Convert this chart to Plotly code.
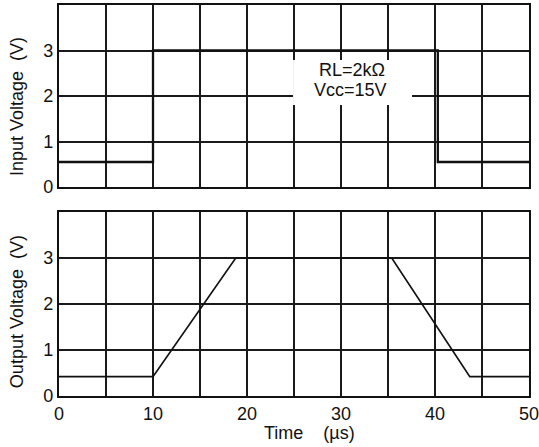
import plotly.graph_objects as go

# Data
input_time = [0, 10, 10, 40.3, 40.3, 50]
input_volt = [0.55, 0.55, 3, 3, 0.55, 0.55]
output_time = [0, 10, 18.8, 35.4, 43.7, 50]
output_volt = [0.42, 0.42, 3, 3, 0.42, 0.42]
x_ticks = [0, 10, 20, 30, 40, 50]
y_ticks = [0, 1, 2, 3]
note_lines = ["RL=2kΩ", "Vcc=15V"]

FONT = "Liberation Sans, Arial, Helvetica, sans-serif"
INK = "#111111"
GRID = "#1a1a1a"
GW = 1.9
FS = 18

fig = go.Figure()
fig.add_trace(go.Scatter(x=input_time, y=input_volt, mode="lines",
                         line=dict(color=INK, width=2.3), xaxis="x", yaxis="y",
                         showlegend=False, hoverinfo="skip"))
fig.add_trace(go.Scatter(x=output_time, y=output_volt, mode="lines",
                         line=dict(color=INK, width=1.7), xaxis="x2", yaxis="y2",
                         showlegend=False, hoverinfo="skip"))

xcommon = dict(range=[0, 50], showgrid=True, gridcolor=GRID, gridwidth=GW,
               tick0=0, showline=True, mirror=True, linecolor=INK,
               linewidth=2.2, zeroline=False, ticks="", fixedrange=True,
               automargin=False)
ycommon = dict(range=[0, 4], showgrid=True, gridcolor=GRID, gridwidth=GW,
               tickmode="array", tickvals=y_ticks, showline=True, mirror=True,
               linecolor=INK, linewidth=2.2, zeroline=False, ticks="",
               tickfont=dict(family=FONT, size=FS, color=INK), fixedrange=True,
               automargin=False)

fig.update_layout(
    width=539, height=447,
    margin=dict(l=59, r=10, t=5, b=51, autoexpand=False),
    paper_bgcolor="white", plot_bgcolor="white",
    font=dict(family=FONT, size=FS, color=INK),
    xaxis=dict(**xcommon, dtick=5, domain=[0, 1], anchor="y", showticklabels=False),
    yaxis=dict(**ycommon, domain=[0.5345, 1], anchor="x"),
    xaxis2=dict(**xcommon, tickmode="array", tickvals=x_ticks,
                domain=[0, 1], anchor="y2", ticklabeloverflow="allow",
                minor=dict(dtick=5, showgrid=True, gridcolor=GRID, gridwidth=GW),
                tickfont=dict(family=FONT, size=FS, color=INK)),
    yaxis2=dict(**ycommon, domain=[0, 0.4706], anchor="x2"),
)

# white box behind the note
fig.add_shape(type="rect", xref="x", yref="y", x0=24.9, x1=37.55, y0=1.8, y1=2.79,
              fillcolor="white", line=dict(width=0), layer="between")
fig.add_annotation(xref="x", yref="y", x=31.2, y=2.57, text=note_lines[0],
                   showarrow=False, font=dict(family=FONT, size=FS, color=INK))
fig.add_annotation(xref="x", yref="y", x=31.0, y=2.13, text=note_lines[1],
                   showarrow=False, font=dict(family=FONT, size=FS, color=INK))

# axis titles
fig.add_annotation(xref="paper", yref="paper", x=-0.0894, y=0.7417,
                   text="Input Voltage\u00a0 (V)", textangle=-90, showarrow=False,
                   xanchor="center", yanchor="middle",
                   font=dict(family=FONT, size=FS, color=INK))
fig.add_annotation(xref="paper", yref="paper", x=-0.0894, y=0.217,
                   text="Output Voltage\u00a0 (V)", textangle=-90, showarrow=False,
                   xanchor="center", yanchor="middle",
                   font=dict(family=FONT, size=FS, color=INK))
fig.add_annotation(xref="paper", yref="paper", x=0.534, y=-0.0946,
                   text="Time\u00a0\u00a0\u00a0 (µs)", showarrow=False,
                   xanchor="center", yanchor="middle",
                   font=dict(family=FONT, size=FS, color=INK))

fig.write_html("out.html", config={"displayModeBar": False},
               post_script="document.body.style.margin='0';")
